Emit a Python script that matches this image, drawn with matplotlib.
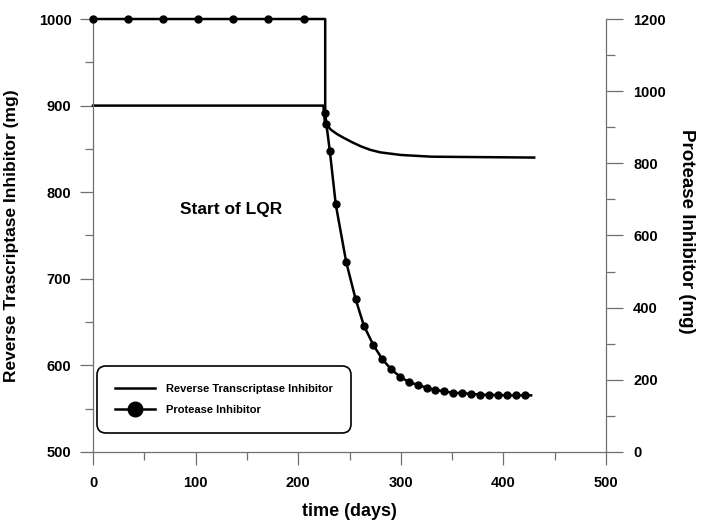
import matplotlib
matplotlib.use("Agg")
import matplotlib.pyplot as plt

plt.rcParams['font.family'] = ['Liberation Sans', 'DejaVu Sans']
plt.rcParams['font.weight'] = 'bold'

# reverse transcriptase inhibitor (left axis, mg)
rt_days = [0, 224.5, 226, 232, 238, 244, 252, 261, 270, 280, 300, 330, 430]
rt_vals = [900, 900, 880, 872, 867, 863, 858, 853, 849, 846, 843, 841, 840]

# protease inhibitor (right axis, mg)
pi_days = [0, 34.2, 68.4, 102.6, 136.8, 171, 205.2, 226.3,
           226.3, 227.5, 230.8, 236.6, 246.8, 255.9, 264, 273.1, 282, 290.7,
           299.1, 307.6, 316.4, 325.2, 333.7, 342.1, 351.3, 360, 368.8,
           377.2, 386, 394.8, 403.3, 412.1, 421.2, 427]
pi_vals = [1200, 1200, 1200, 1200, 1200, 1200, 1200, 1200,
           939, 908, 834, 686, 526, 424, 350, 297, 257, 229,
           209, 194, 186, 178, 172, 168, 164, 163, 161,
           159, 158, 158, 157, 157, 157, 157]
pi_marks = [i for i in range(len(pi_days)) if i not in (7, len(pi_days) - 1)]

fig = plt.figure(figsize=(7.01, 5.31), dpi=100)
ax = fig.add_axes([0.1327, 0.1488, 0.7318, 0.8154])
ax2 = ax.twinx()

grey = '#707070'

l1, = ax.plot(rt_days, rt_vals, color='black', lw=1.8, clip_on=False,
              label='Reverse Transcriptase Inhibitor')
l2, = ax2.plot(pi_days, pi_vals, color='black', lw=1.8, marker='o', ms=5,
               markevery=pi_marks, clip_on=False, label='Protease Inhibitor')

ax.text(134.8, 779.5, 'Start of LQR', fontsize=12.5, fontweight='bold',
        ha='center', va='center')

ax.set_xlim(0, 500)
ax.set_ylim(500, 1000)
ax2.set_ylim(0, 1200)

ax.set_xticks(range(0, 501, 100))
ax.set_xticks(range(50, 500, 100), minor=True)
ax.set_yticks(range(500, 1001, 100))
ax.set_yticks(range(550, 1000, 100), minor=True)
ax2.set_yticks(range(0, 1201, 200))
ax2.set_yticks(range(100, 1200, 200), minor=True)

for a in (ax, ax2):
    a.spines['top'].set_visible(False)
ax.spines['right'].set_visible(False)
ax2.spines['left'].set_visible(False)
ax2.spines['bottom'].set_visible(False)
for s in ('left', 'bottom'):
    ax.spines[s].set_color(grey)
    ax.spines[s].set_linewidth(0.9)
ax2.spines['right'].set_color(grey)
ax2.spines['right'].set_linewidth(0.9)

ax.tick_params(axis='y', which='major', length=9.5, width=0.9, color=grey, labelsize=10.5, pad=6)
ax.tick_params(axis='y', which='minor', length=6, width=0.9, color=grey)
ax.tick_params(axis='x', which='major', length=9.5, width=0.9, color=grey, labelsize=10.5, pad=8)
ax.tick_params(axis='x', which='minor', length=6, width=0.9, color=grey)
ax2.tick_params(axis='y', which='major', length=12.5, width=0.9, color=grey, labelsize=10.5, pad=7)
ax2.tick_params(axis='y', which='minor', length=6.5, width=0.9, color=grey)

ax.set_xlabel('time (days)', fontsize=13, fontweight='bold')
ax.xaxis.set_label_coords(0.5, -0.118)
ax.set_ylabel('Reverse Trascriptase Inhibitor (mg)', fontsize=12.5, fontweight='bold')
ax.yaxis.set_label_coords(-0.144, 0.5)
ax2.set_ylabel('Protease Inhibitor (mg)', fontsize=13.5, fontweight='bold',
               rotation=270, va='bottom', ha='center')
ax2.yaxis.set_label_coords(1.14, 0.51)

leg = ax2.legend(handles=[l1, l2], loc='lower left', bbox_to_anchor=(0.008, 0.045),
                 borderaxespad=0, fontsize=8, frameon=True, fancybox=True,
                 handlelength=3.6, handletextpad=1.0, labelspacing=0.95,
                 borderpad=1.6, markerscale=2.1)
frame = leg.get_frame()
frame.set_edgecolor('black')
frame.set_linewidth(1.2)
frame.set_alpha(1)
frame.set_boxstyle('round,pad=0,rounding_size=0.8')

fig.savefig('out.png', dpi=100)
